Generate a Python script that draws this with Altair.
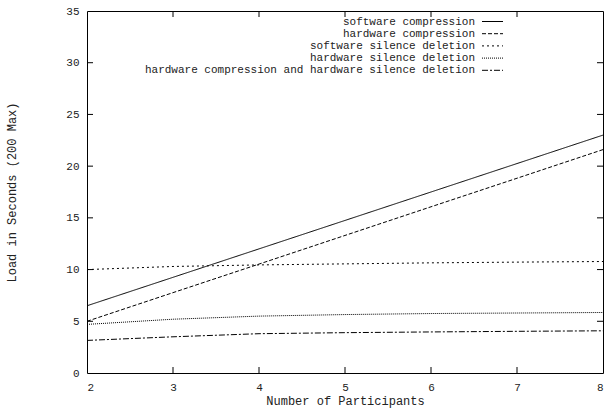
import altair as alt
import pandas as pd

participants = [2, 3, 4, 5, 6, 7, 8]
series_names = [
    "software compression",
    "hardware compression",
    "software silence deletion",
    "hardware silence deletion",
    "hardware compression and hardware silence deletion",
]
sw_comp = [6.5, 9.25, 12.0, 14.75, 17.5, 20.25, 23.0]
hw_comp = [5.0, 7.77, 10.53, 13.3, 16.07, 18.83, 21.6]
sw_sil = [10.0, 10.3, 10.45, 10.55, 10.65, 10.72, 10.78]
hw_sil = [4.7, 5.2, 5.5, 5.65, 5.75, 5.8, 5.85]
hw_both = [3.15, 3.5, 3.8, 3.9, 3.97, 4.03, 4.08]
all_series = [sw_comp, hw_comp, sw_sil, hw_sil, hw_both]
dashes = [[1, 0], [4, 2], [2, 3], [1, 1], [6, 2, 2, 2]]

x_ticks = [2, 3, 4, 5, 6, 7, 8]
y_ticks = [0, 5, 10, 15, 20, 25, 30, 35]

FONT = "Liberation Mono"
W, H = 516, 362

rows = []
for name, vals in zip(series_names, all_series):
    for xv, yv in zip(participants, vals):
        rows.append({"x": xv, "y": yv, "series": name})
df = pd.DataFrame(rows)

xscale = alt.Scale(domain=[2, 8], nice=False, zero=False)
yscale = alt.Scale(domain=[0, 35], nice=False)

lines = alt.Chart(df).mark_line(color="black", strokeWidth=1).encode(
    x=alt.X("x:Q", scale=xscale,
            axis=alt.Axis(values=x_ticks, format="d", title="Number of Participants",
                          ticks=False, domain=False, grid=False, labelPadding=8,
                          titlePadding=3)),
    y=alt.Y("y:Q", scale=yscale,
            axis=alt.Axis(values=y_ticks, format="d", title="Load in Seconds (200 Max)",
                          ticks=False, domain=False, grid=False, labelPadding=8,
                          titlePadding=47)),
    strokeDash=alt.StrokeDash("series:N", scale=alt.Scale(domain=series_names, range=dashes),
                              legend=None),
    detail="series:N",
)

xt = pd.DataFrame({"x": x_ticks[1:-1]})
yt = pd.DataFrame({"y": y_ticks[1:-1]})
tick_b = alt.Chart(xt).mark_rule(color="black").encode(x="x:Q", y=alt.value(H), y2=alt.value(H - 6))
tick_t = alt.Chart(xt).mark_rule(color="black").encode(x="x:Q", y=alt.value(0), y2=alt.value(6))
tick_l = alt.Chart(yt).mark_rule(color="black").encode(y="y:Q", x=alt.value(0), x2=alt.value(6))
tick_r = alt.Chart(yt).mark_rule(color="black").encode(y="y:Q", x=alt.value(W), x2=alt.value(W - 6))

layers = [lines, tick_b, tick_t, tick_l, tick_r]
leg_y = [10.5, 22.7, 34.9, 47.1, 59.3]
for name, dash, yy in zip(series_names, dashes, leg_y):
    ldf = pd.DataFrame({"label": [name]})
    layers.append(alt.Chart(ldf).mark_text(align="right", baseline="middle", font=FONT,
                                           fontSize=11, color="#222").encode(
        text="label:N", x=alt.value(388), y=alt.value(yy)))
    layers.append(alt.Chart(ldf).mark_rule(color="black", strokeWidth=1, strokeDash=dash).encode(
        x=alt.value(395), x2=alt.value(416), y=alt.value(yy)))

chart = alt.layer(*layers).properties(
    width=W, height=H,
    background="white",
    autosize=alt.AutoSizeParams(type="none"),
    padding={"left": 87, "top": 11, "right": 2, "bottom": 36},
).configure_view(stroke="black", strokeWidth=1).configure_axis(
    labelFont=FONT, labelFontSize=11, labelColor="#222",
    titleFont=FONT, titleFontSize=12, titleColor="#222", titleFontWeight="normal",
)

chart.save("out.html", embed_options={"renderer": "svg", "actions": False})
